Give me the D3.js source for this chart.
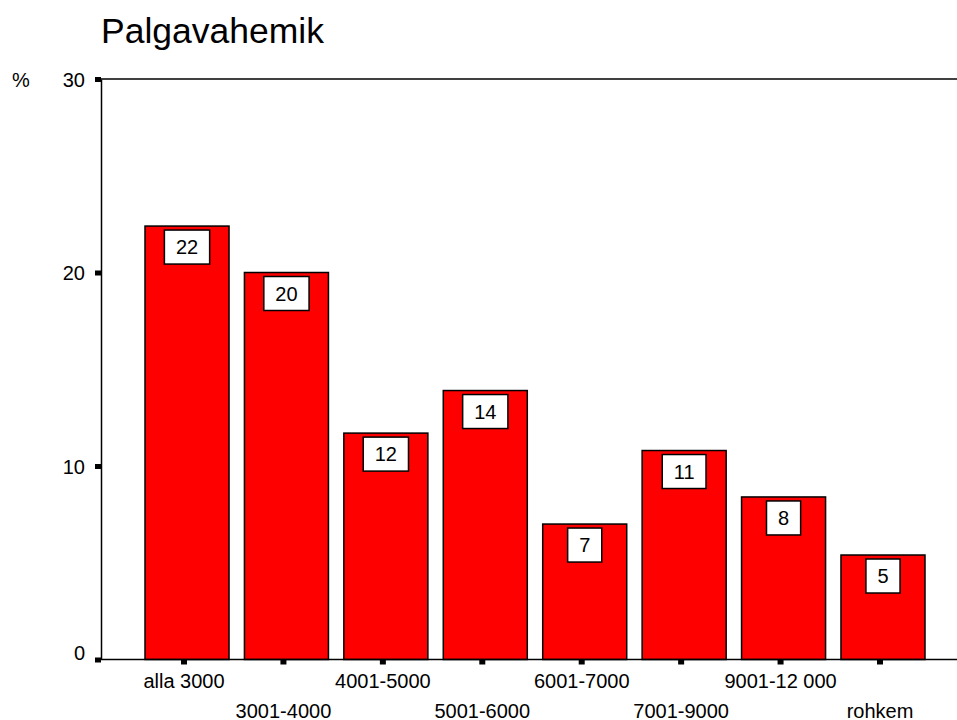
<!DOCTYPE html>
<html>
<head>
<meta charset="utf-8">
<style>
    body { margin: 0; background: #fff; }
    svg { display: block; font-family: 'Liberation Sans', Arial, sans-serif; }
</style>
</head>
<body>
<svg width="957" height="720"></svg>
<script src="https://d3js.org/d3.v7.min.js"></script>
<script>
    // data
    let categories = ["alla 3000", "3001-4000", "4001-5000", "5001-6000", "6001-7000", "7001-9000", "9001-12 000", "rohkem"]
    let values = [22.4, 20.0, 11.7, 13.9, 7.0, 10.8, 8.4, 5.4]
    let yTicks = [0, 10, 20, 30]

    let svg = d3.select("svg")
    let font = "'Liberation Sans', Arial, sans-serif"

    let x = d3.scaleBand()
        .domain(categories)
        .range([134.3, 929.7])
        .paddingInner(0.155)
        .paddingOuter(0.0775)

    let y = d3.scaleLinear()
        .domain([0, 30])
        .range([659.5, 79])

    // title
    svg.append("text")
        .attr("x", 101)
        .attr("y", 43)
        .attr("font-size", 35.5)
        .attr("fill", "#000")
        .text("Palgavahemik")

    svg.append("text")
        .attr("x", 12)
        .attr("y", 87)
        .attr("font-size", 20)
        .text("%")

    // top frame line
    svg.append("line")
        .attr("x1", 101).attr("x2", 957)
        .attr("y1", y(30)).attr("y2", y(30))
        .attr("stroke", "#000").attr("stroke-width", 1.5)

    // bars
    svg.append("g")
        .selectAll("rect")
        .data(values)
        .join("rect")
        .attr("x", (d, i) => x(categories[i]) + 3)
        .attr("y", d => y(d))
        .attr("width", x.bandwidth())
        .attr("height", d => y(0) - y(d))
        .attr("fill", "#ff0000")
        .attr("stroke", "#000")
        .attr("stroke-width", 1.5)

    // value labels in white boxes
    let labels = svg.append("g")
        .selectAll("g")
        .data(values)
        .join("g")
        .attr("transform", (d, i) => `translate(${x(categories[i]) + 3 + x.bandwidth() / 2},${y(d) + 4})`)

    labels.append("rect")
        .attr("fill", "#fff")
        .attr("stroke", "#000")
        .attr("stroke-width", 1.5)
        .attr("y", 0)
        .attr("height", 34)

    labels.append("text")
        .attr("text-anchor", "middle")
        .attr("y", 24)
        .attr("font-size", 20)
        .text(d => Math.round(d))

    labels.each(function() {
        let g = d3.select(this)
        let w = g.select("text").node().getComputedTextLength() + 23
        g.select("rect").attr("x", -w / 2).attr("width", w)
    })

    // y axis
    let yAxis = d3.axisLeft(y)
        .tickValues(yTicks)
        .tickSize(0)
        .tickPadding(16)

    let gy = svg.append("g")
        .attr("transform", "translate(101,0)")
        .call(yAxis)
    gy.select(".domain").attr("stroke", "#000").attr("stroke-width", 1.5)
    gy.selectAll(".tick text")
        .attr("font-size", 20)
        .attr("fill", "#000")
        .attr("font-family", font)
        .attr("dy", d => d == 0 ? "0.0em" : "0.35em")
    gy.selectAll(".tick").append("rect")
        .attr("x", -6).attr("y", -2.5)
        .attr("width", 6).attr("height", 5)
        .attr("fill", "#000")

    // x axis
    let xAxis = d3.axisBottom(x)
        .tickSize(0)
        .tickPadding(0)

    let gx = svg.append("g")
        .attr("transform", `translate(0,${y(0)})`)
        .call(xAxis)
    gx.select(".domain").remove()
    gx.append("line")
        .attr("x1", 96).attr("x2", 957)
        .attr("stroke", "#000").attr("stroke-width", 1.5)
    gx.selectAll(".tick text")
        .attr("font-size", 20)
        .attr("fill", "#000")
        .attr("font-family", font)
        .attr("dy", null)
        .attr("y", (d, i) => i % 2 == 0 ? 28 : 58)
    gx.selectAll(".tick").append("rect")
        .attr("x", -3).attr("y", 0)
        .attr("width", 6).attr("height", 5)
        .attr("fill", "#000")
</script>
</body>
</html>
